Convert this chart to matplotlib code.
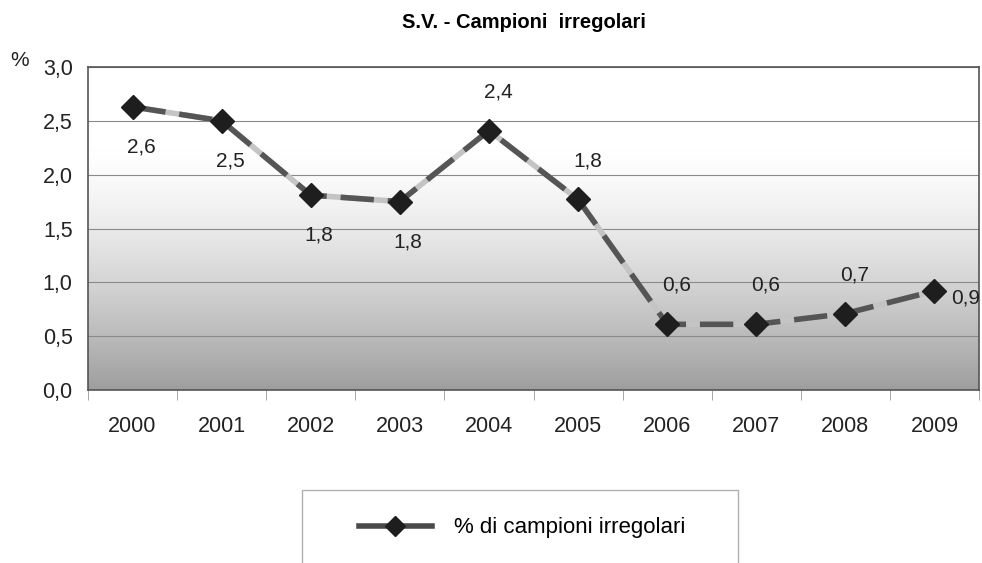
import matplotlib.pyplot as plt
import numpy as np
from matplotlib.patches import Rectangle
from matplotlib.lines import Line2D

# data
years = ['2000', '2001', '2002', '2003', '2004', '2005', '2006', '2007', '2008', '2009']
pct = [2.63, 2.50, 1.81, 1.75, 2.41, 1.77, 0.61, 0.61, 0.71, 0.92]
# where the value label sits relative to the point
lab_pos = ['below', 'below', 'below', 'below', 'above', 'above', 'above', 'above', 'above', 'right']

plt.rcParams['font.family'] = ['Liberation Sans', 'DejaVu Sans']

fig = plt.figure(figsize=(9.82, 5.63), dpi=100)
ax = fig.add_axes([88/982, 1-390/563, 891/982, 323/563])

x = np.arange(len(years))

# gray gradient background: gray at the bottom, white towards the top
t = np.linspace(0, 1, 256).reshape(-1, 1)   # 0 = bottom, 1 = top
shade = np.clip(1 - t / 0.75, 0, 1) ** 1.4
vals = 1.0 - 0.38 * shade
ax.imshow(np.dstack([vals, vals, vals]), extent=[-0.5, 9.5, 0, 3.0], aspect='auto',
          zorder=0, origin='lower')
ax.set_xlim(-0.5, len(years) - 0.5)
ax.set_ylim(0, 3.0)

ax.set_yticks(np.arange(0, 3.01, 0.5))
ax.set_yticklabels([('%.1f' % v).replace('.', ',') for v in np.arange(0, 3.01, 0.5)], fontsize=15.5)
ax.yaxis.grid(True, color='#8a8a8a', linewidth=0.8)
ax.tick_params(axis='y', length=0, pad=11, colors='#222222')

ax.set_xticks(x)
ax.set_xticklabels(years, fontsize=15.5, color='#222222')
ax.set_xticks(np.arange(-0.5, 10, 1), minor=True)
ax.tick_params(axis='x', which='major', length=0, pad=19)
ax.tick_params(axis='x', which='minor', length=7, color='#999999')

for s in ax.spines.values():
    s.set_color('#555555')
    s.set_linewidth(1.2)

# line: light gray under mid/dark dashes, diamond markers
ax.plot(x, pct, color='#c4c4c4', linewidth=4, zorder=3)
ax.plot(x, pct, color='#555555', linewidth=4, dashes=(6, 2.5), zorder=4)
ax.plot(x, pct, linestyle='none', marker='D', markersize=12.5, color='#1e1e1e', zorder=5)

for xi, v, p in zip(x, pct, lab_pos):
    txt = ('%.1f' % v).replace('.', ',')
    if p == 'below':
        ax.annotate(txt, (xi, v), xytext=(6, -29), textcoords='offset points',
                    ha='center', va='center', fontsize=15, color='#222222', zorder=6)
    elif p == 'above':
        ax.annotate(txt, (xi, v), xytext=(7, 28), textcoords='offset points',
                    ha='center', va='center', fontsize=15, color='#222222', zorder=6)
    else:
        ax.annotate(txt, (xi, v), xytext=(12, -5), textcoords='offset points',
                    ha='left', va='center', fontsize=15, color='#222222', zorder=6,
                    annotation_clip=False)

fig.text(524/982, 1-22/563, 'S.V. - Campioni  irregolari', ha='center', va='center',
         fontsize=14.5, fontweight='bold', family=['Liberation Sans Narrow', 'Liberation Sans'])
fig.text(10/982, 1-60/563, '%', ha='left', va='center', fontsize=15, color='#222222')

# legend box, open at the bottom edge of the picture
fig.patches.append(Rectangle((302/982, -0.02), 436/982, 0.02 + (563-490)/563,
                             transform=fig.transFigure, fill=False,
                             edgecolor='#b0b0b0', linewidth=1))
h = Line2D([], [], color='#4a4a4a', linewidth=4, marker='D', markersize=10,
           markerfacecolor='#1e1e1e', markeredgecolor='#1e1e1e')
fig.legend([h], ['% di campioni irregolari'], loc='center', frameon=False,
           bbox_to_anchor=(522/982, 1-528/563), fontsize=16, handlelength=3.3,
           handletextpad=1.0)

fig.savefig('out.png', dpi=100)
